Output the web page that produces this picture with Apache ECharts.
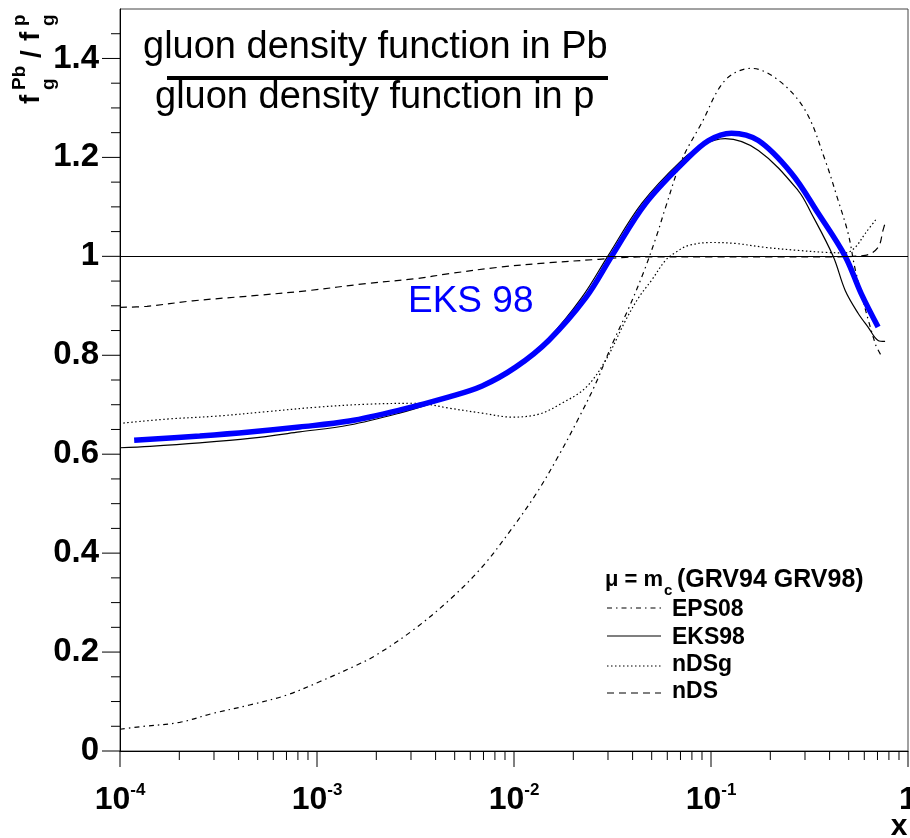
<!DOCTYPE html>
<html><head><meta charset="utf-8">
<script src="https://cdn.jsdelivr.net/npm/echarts@6/dist/echarts.min.js"></script>
<style>html,body{margin:0;padding:0;background:#fff}#c{width:910px;height:838px}</style>
</head><body><div id="c"></div>
<script>
// ---- data (x, ratio) ----
const eks98Annotated = [[1.18e-4,0.628],[2.54e-4,0.637],[4.55e-4,0.645],[8.15e-4,0.655],[1.46e-3,0.667],[2.62e-3,0.689],[4.69e-3,0.716],[6.89e-3,0.738],[1.02e-2,0.776],[1.50e-2,0.830],[2.32e-2,0.917],[3.13e-2,1.000],[4.66e-2,1.107],[7.43e-2,1.194],[9.71e-2,1.234],[0.127,1.249],[0.174,1.234],[0.256,1.168],[0.350,1.087],[0.480,1.000],[0.578,0.925],[0.705,0.857]];
const eks98 = [[1.0e-4,0.613],[1.42e-4,0.616],[2.54e-4,0.623],[4.55e-4,0.632],[8.15e-4,0.645],[1.46e-3,0.659],[2.62e-3,0.683],[3.84e-3,0.703],[6.89e-3,0.737],[1.02e-2,0.778],[1.50e-2,0.835],[2.21e-2,0.917],[2.99e-2,1.000],[4.45e-2,1.107],[7.09e-2,1.194],[9.16e-2,1.226],[0.118,1.238],[0.174,1.214],[0.277,1.133],[0.323,1.087],[0.417,1.000],[0.480,0.931],[0.558,0.885],[0.627,0.857],[0.705,0.830],[0.765,0.828]];
const eps08 = [[1.0e-4,0.044],[1.26e-4,0.049],[2.01e-4,0.058],[2.96e-4,0.076],[4.55e-4,0.093],[7.01e-4,0.113],[1.03e-3,0.140],[1.58e-3,0.173],[2.00e-3,0.194],[3.04e-3,0.243],[4.69e-3,0.305],[6.89e-3,0.372],[9.77e-3,0.450],[1.31e-2,0.523],[1.69e-2,0.598],[2.13e-2,0.673],[2.60e-2,0.743],[3.13e-2,0.820],[3.82e-2,0.895],[4.55e-2,0.968],[5.30e-2,1.042],[5.88e-2,1.099],[7.09e-2,1.194],[8.95e-2,1.269],[0.118,1.356],[0.160,1.380],[0.220,1.356],[0.301,1.295],[0.380,1.194],[0.442,1.113],[0.497,1.046],[0.545,0.966],[0.681,0.824],[0.730,0.800]];
const nDSg = [[1.04e-4,0.663],[1.73e-4,0.671],[3.10e-4,0.677],[5.55e-4,0.686],[9.94e-4,0.695],[1.78e-3,0.701],[3.19e-3,0.703],[4.69e-3,0.693],[6.89e-3,0.683],[9.77e-3,0.675],[1.34e-2,0.681],[1.75e-2,0.703],[2.32e-2,0.735],[2.92e-2,0.790],[3.69e-2,0.871],[4.30e-2,0.917],[5.00e-2,0.952],[5.88e-2,0.992],[6.61e-2,1.008],[7.69e-2,1.022],[0.1006,1.028],[0.133,1.026],[0.189,1.018],[0.277,1.012],[0.380,1.008],[0.480,1.007],[0.539,1.018],[0.606,1.046],[0.689,1.075]];
const nDS = [[1.0e-4,0.897],[1.37e-4,0.899],[2.34e-4,0.910],[4.94e-4,0.921],[9.16e-4,0.931],[1.78e-3,0.945],[3.19e-3,0.955],[4.69e-3,0.965],[8.39e-3,0.978],[1.50e-2,0.987],[2.69e-2,0.994],[3.69e-2,0.998],[0.05,0.999],[0.1,0.999],[0.2,0.999],[0.4,0.999],[0.606,1.002],[0.705,1.018],[0.747,1.053],[0.765,1.067]];
const referenceLevel = 1;

// ---- axes / ticks ----
const xDecades = [1e-4, 1e-3, 1e-2, 1e-1, 1];
const xDecadeExponents = [-4, -3, -2, -1, 0];
const xMinorMultipliers = [2, 3, 4, 5, 6, 7, 8, 9];
const yMajorTicks = [0, 0.2, 0.4, 0.6, 0.8, 1.0, 1.2, 1.4];
const yMinorTicks = [0.05,0.1,0.15,0.25,0.3,0.35,0.45,0.5,0.55,0.65,0.7,0.75,0.85,0.9,0.95,1.05,1.1,1.15,1.25,1.3,1.35,1.45];
const legendNames = ['EPS08', 'EKS98', 'nDSg', 'nDS'];

const F = '"Liberation Sans", Arial, Helvetica, sans-serif';
const xMinorTicks = [];
for (let i = 0; i < xDecades.length - 1; i++) for (const m of xMinorMultipliers) xMinorTicks.push(xDecades[i] * m);

function tickSeries(data, horizontal, len) {
  return {
    type: 'custom', silent: true, clip: false, z: 5,
    data: data,
    renderItem: function (params, api) {
      const p = api.coord([api.value(0), api.value(1)]);
      const shape = horizontal
        ? { x1: p[0] - len, y1: p[1], x2: p[0], y2: p[1] }
        : { x1: p[0], y1: p[1], x2: p[0], y2: p[1] + len };
      return { type: 'line', shape: shape, style: { stroke: '#000', lineWidth: 1 } };
    }
  };
}

// x tick labels (10^n) placed at the axis' own coordinates
const xLabelSeries = {
  type: 'custom', silent: true, clip: false, z: 5,
  data: xDecades.map(function (v, i) { return [v, 0, xDecadeExponents[i]]; }),
  renderItem: function (params, api) {
    const p = api.coord([api.value(0), api.value(1)]);
    const e = api.value(2);
    return {
      type: 'text', x: p[0], y: p[1] + 31,
      style: {
        text: e === 0 ? '{b|1}' : '{b|10}{e|' + e + '}',
        align: 'center', verticalAlign: 'top',
        rich: {
          b: { font: 'bold 32px ' + F, fill: '#000', lineHeight: 36 },
          e: { font: 'bold 17px ' + F, fill: '#000', lineHeight: 18, verticalAlign: 'top' }
        }
      }
    };
  }
};

const dashDot = [5, 4, 1.5, 4];
const dotted = [1.5, 2.5];
const dashed = [7, 5];

const chart = echarts.init(document.getElementById('c'));
const legendY = [608, 636, 666, 693];
const legendTextY = [610, 638, 665, 692];
const legendDash = [dashDot, null, dotted, dashed];
const graphic = [
  { type: 'text', x: 143, y: 48, style: { text: 'gluon density function in Pb', font: '38px ' + F, fill: '#000', textVerticalAlign: 'middle' } },
  { type: 'rect', shape: { x: 167, y: 76, width: 441, height: 4 }, style: { fill: '#000' } },
  { type: 'text', x: 155, y: 98, style: { text: 'gluon density function in p', font: '38px ' + F, fill: '#000', textVerticalAlign: 'middle' } },
  { type: 'text', x: 408, y: 302, style: { text: 'EKS 98', font: '37px ' + F, fill: '#0000ff', textVerticalAlign: 'middle' } },
  // y-axis title (rotated)
  { type: 'text', x: 31, y: 104, rotation: Math.PI / 2, style: { text: 'f', font: 'bold 28px ' + F, fill: '#000', textVerticalAlign: 'middle' } },
  { type: 'text', x: 20, y: 90, rotation: Math.PI / 2, style: { text: 'Pb', font: 'bold 19px ' + F, fill: '#000', textVerticalAlign: 'middle' } },
  { type: 'text', x: 49, y: 90, rotation: Math.PI / 2, style: { text: 'g', font: 'bold 19px ' + F, fill: '#000', textVerticalAlign: 'middle' } },
  { type: 'text', x: 32, y: 58, rotation: Math.PI / 2, style: { text: '/', font: 'bold 28px ' + F, fill: '#000', textVerticalAlign: 'middle' } },
  { type: 'text', x: 31, y: 41, rotation: Math.PI / 2, style: { text: 'f', font: 'bold 28px ' + F, fill: '#000', textVerticalAlign: 'middle' } },
  { type: 'text', x: 20, y: 26, rotation: Math.PI / 2, style: { text: 'p', font: 'bold 19px ' + F, fill: '#000', textVerticalAlign: 'middle' } },
  { type: 'text', x: 49, y: 26, rotation: Math.PI / 2, style: { text: 'g', font: 'bold 19px ' + F, fill: '#000', textVerticalAlign: 'middle' } },
  // x-axis title
  { type: 'text', x: 899, y: 827, style: { text: 'x', font: 'bold 30px ' + F, fill: '#000', textAlign: 'center', textVerticalAlign: 'middle' } },
  // legend header
  { type: 'text', x: 605, y: 580, style: { text: 'μ = m', font: 'bold 22px ' + F, fill: '#000', textVerticalAlign: 'middle' } },
  { type: 'text', x: 664, y: 591, style: { text: 'c', font: 'bold 15px ' + F, fill: '#000', textVerticalAlign: 'middle' } },
  { type: 'text', x: 677, y: 580, style: { text: '(GRV94 GRV98)', font: 'bold 25px ' + F, fill: '#000', textVerticalAlign: 'middle' } }
];
legendNames.forEach(function (n, i) {
  graphic.push({ type: 'line', shape: { x1: 607, y1: legendY[i], x2: 661, y2: legendY[i] },
    style: { stroke: '#000', lineWidth: 1.2, lineDash: legendDash[i] } });
  graphic.push({ type: 'text', x: 672, y: legendTextY[i], style: { text: n, font: 'bold 23px ' + F, fill: '#000', textVerticalAlign: 'middle' } });
});

function lineSeries(name, data, color, width, type, z) {
  return { name: name, type: 'line', data: data, showSymbol: false, symbol: 'none', smooth: 0.35,
    lineStyle: { color: color, width: width, type: type, cap: 'butt' }, z: z, silent: true };
}

const series = [
  lineSeries('EPS08', eps08, '#000', 1.2, dashDot, 2),
  lineSeries('nDSg', nDSg, '#000', 1.2, dotted, 2),
  lineSeries('nDS', nDS, '#000', 1.2, dashed, 2),
  lineSeries('EKS98', eks98, '#000', 1.2, 'solid', 3),
  lineSeries('EKS 98', eks98Annotated, '#0000ff', 5.5, 'solid', 4),
  tickSeries(xDecades.map(function (v) { return [v, 0]; }), false, 16),
  tickSeries(xMinorTicks.map(function (v) { return [v, 0]; }), false, 9),
  tickSeries(yMajorTicks.map(function (v) { return [1e-4, v]; }), true, 18),
  tickSeries(yMinorTicks.map(function (v) { return [1e-4, v]; }), true, 9),
  xLabelSeries
];
series[0].markLine = { symbol: 'none', silent: true, label: { show: false },
  lineStyle: { color: '#000', width: 1.2, type: 'solid' }, data: [{ yAxis: referenceLevel }] };

chart.setOption({
  animation: false,
  backgroundColor: '#fff',
  grid: { left: 120, right: 2, top: 9, bottom: 87, show: true, borderColor: '#444', borderWidth: 1 },
  xAxis: {
    type: 'log', logBase: 10, min: 1e-4, max: 1,
    axisLine: { show: true, lineStyle: { color: '#000', width: 1 } },
    axisTick: { show: false }, splitLine: { show: false },
    axisLabel: { show: false }
  },
  yAxis: {
    type: 'value', min: 0, max: 1.5, interval: 0.2,
    axisLine: { show: true, lineStyle: { color: '#000', width: 1 } },
    axisTick: { show: false }, splitLine: { show: false },
    axisLabel: {
      margin: 21, color: '#000', fontSize: 33, fontWeight: 'bold', fontFamily: F, showMaxLabel: false,
      formatter: function (v) { return v > 1.45 ? '' : String(+v.toFixed(1)); }
    }
  },
  graphic: graphic,
  series: series
});
</script></body></html>
